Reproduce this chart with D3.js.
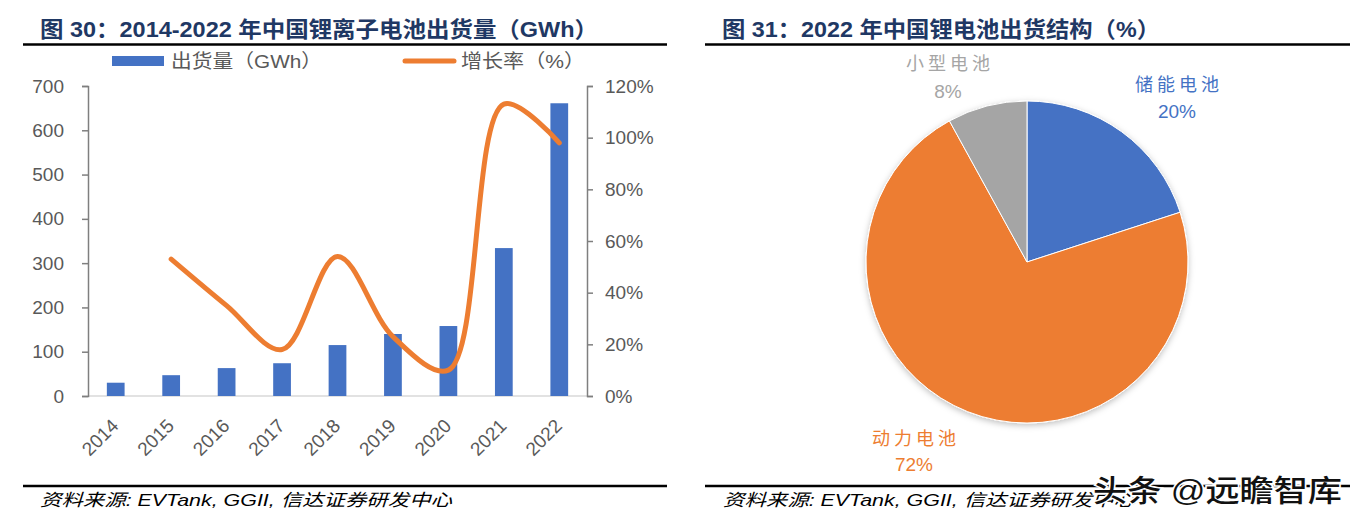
<!DOCTYPE html>
<html>
<head>
<meta charset="utf-8">
<script src="https://cdn.jsdelivr.net/npm/d3@7/dist/d3.min.js"></script>
<style>
  html, body { margin: 0; padding: 0; background: #fff; }
  svg { display: block; }
  text { font-family: "Liberation Sans", Arial, "Noto Sans CJK SC", sans-serif; }
</style>
</head>
<body>
<svg id="chart" width="1359" height="524"></svg>
<script>
// ---------- data ----------
const years = ["2014", "2015", "2016", "2017", "2018", "2019", "2020", "2021", "2022"];
const shipments = [30, 47, 63, 74, 115, 140, 158, 334, 661];            // GWh
const growth = [null, 0.53, 0.35, 0.18, 0.54, 0.23, 0.10, 1.13, 0.98]; // growth rate
const leftTicks = [0, 100, 200, 300, 400, 500, 600, 700];
const rightTicks = [0, 0.2, 0.4, 0.6, 0.8, 1.0, 1.2];

const pieLabels = ["储能电池", "动力电池", "小型电池"];
const pieValues = [20, 72, 8];
const pieColors = ["#4472C4", "#ED7D31", "#A5A5A5"];

const title1 = "图 30：2014-2022 年中国锂离子电池出货量（GWh）";
const title2 = "图 31：2022 年中国锂电池出货结构（%）";
const legendLabels = ["出货量（GWh）", "增长率（%）"];
const sourceText = "资料来源: EVTank, GGII, 信达证券研发中心";
const watermark = "头条 @远瞻智库";

// ---------- setup ----------
const svg = d3.select("#chart");
const navy = "#1F3864";
const grey = "#595959";
const blue = "#4472C4";
const orange = "#ED7D31";

const defs = svg.append("defs");
const f = defs.append("filter").attr("id", "shadow").attr("x", "-20%").attr("y", "-20%").attr("width", "140%").attr("height", "140%");
f.append("feDropShadow").attr("dx", 0).attr("dy", 2).attr("stdDeviation", 3).attr("flood-color", "#000").attr("flood-opacity", 0.25);

// ---------- titles & rules ----------
svg.append("text").attr("x", 40).attr("y", 37)
  .attr("font-size", 22).attr("font-weight", "bold").attr("fill", navy)
  .attr("textLength", 558).attr("lengthAdjust", "spacingAndGlyphs")
  .text(title1);
svg.append("text").attr("x", 722).attr("y", 37)
  .attr("font-size", 22).attr("font-weight", "bold").attr("fill", navy)
  .attr("textLength", 438).attr("lengthAdjust", "spacingAndGlyphs")
  .text(title2);

const rules = [[23, 667, 44.5], [705, 1350, 44.5], [23, 667, 486], [705, 1350, 486]];
svg.selectAll("line.rule").data(rules).join("line").attr("class", "rule")
  .attr("x1", d => d[0]).attr("x2", d => d[1]).attr("y1", d => d[2]).attr("y2", d => d[2])
  .attr("stroke", "#000").attr("stroke-width", 2.5);

// source texts
[40, 723].forEach(x => {
  svg.append("text").attr("x", x).attr("y", 506)
    .attr("font-size", 17).attr("font-style", "italic").attr("fill", "#000")
    .attr("textLength", 412).attr("lengthAdjust", "spacingAndGlyphs")
    .text(sourceText);
});

// ---------- left: combo chart ----------
const x = d3.scaleBand().domain(years).range([88, 587]).paddingInner(0.68).paddingOuter(0.34);
const yL = d3.scaleLinear().domain([0, 700]).range([396, 86]);
const yR = d3.scaleLinear().domain([0, 1.2]).range([396, 86]);

// baseline
svg.append("line").attr("x1", 88).attr("x2", 587).attr("y1", yL(0)).attr("y2", yL(0))
  .attr("stroke", "#D9D9D9").attr("stroke-width", 1.5);

// bars
svg.append("g").selectAll("rect").data(years).join("rect")
  .attr("x", (d) => x(d))
  .attr("width", x.bandwidth())
  .attr("y", (d, i) => yL(shipments[i]))
  .attr("height", (d, i) => yL(0) - yL(shipments[i]))
  .attr("fill", blue);

// growth line
const line = d3.line()
  .defined(d => d.v != null)
  .x(d => x(d.year) + x.bandwidth() / 2)
  .y(d => yR(d.v))
  .curve(d3.curveCatmullRom.alpha(0.5));
svg.append("path")
  .datum(years.map((y, i) => ({ year: y, v: growth[i] })).filter(d => d.v != null))
  .attr("d", line)
  .attr("fill", "none").attr("stroke", orange).attr("stroke-width", 5)
  .attr("stroke-linecap", "round").attr("stroke-linejoin", "round");

// left axis
const axL = svg.append("g").attr("transform", "translate(88,0)")
  .call(d3.axisLeft(yL).tickValues(leftTicks).tickSize(6).tickSizeOuter(6).tickPadding(18).tickFormat(d3.format("d")));
// right axis
const axR = svg.append("g").attr("transform", "translate(587,0)")
  .call(d3.axisRight(yR).tickValues(rightTicks).tickSize(6).tickSizeOuter(6).tickPadding(12).tickFormat(d3.format(".0%")));
[axL, axR].forEach(ax => {
  ax.selectAll("path.domain").attr("stroke", "#7F7F7F").attr("stroke-width", 1.5);
  ax.selectAll(".tick line").attr("stroke", "#7F7F7F").attr("stroke-width", 1.5);
  ax.selectAll(".tick text").attr("fill", grey).attr("font-size", 19)
    .attr("font-family", "'Liberation Sans', Arial, sans-serif");
});

// x labels (rotated)
svg.append("g").selectAll("text").data(years).join("text")
  .attr("transform", d => `translate(${x(d) + x.bandwidth() / 2 + 4},${427}) rotate(-45)`)
  .attr("text-anchor", "end")
  .attr("font-size", 19).attr("fill", grey)
  .text(d => d);

// legend
svg.append("rect").attr("x", 112).attr("y", 56).attr("width", 52).attr("height", 10).attr("fill", blue);
svg.append("text").attr("x", 171).attr("y", 68).attr("font-size", 19).attr("fill", grey)
  .attr("textLength", 151).attr("lengthAdjust", "spacingAndGlyphs")
  .attr("font-family", "'Noto Sans CJK SC', 'Liberation Sans', sans-serif")
  .text(legendLabels[0]);
svg.append("line").attr("x1", 405).attr("x2", 454).attr("y1", 61).attr("y2", 61)
  .attr("stroke", orange).attr("stroke-width", 5).attr("stroke-linecap", "round");
svg.append("text").attr("x", 461).attr("y", 68).attr("font-size", 19).attr("fill", grey)
  .attr("textLength", 124).attr("lengthAdjust", "spacingAndGlyphs")
  .attr("font-family", "'Noto Sans CJK SC', 'Liberation Sans', sans-serif")
  .text(legendLabels[1]);

// ---------- right: pie ----------
const cx = 1027, cy = 262, r = 161;
const pie = d3.pie().sort(null).value(d => d)(pieValues);
const arc = d3.arc().innerRadius(0).outerRadius(r);
const gp = svg.append("g").attr("transform", `translate(${cx},${cy})`).attr("filter", "url(#shadow)");
gp.selectAll("path").data(pie).join("path")
  .attr("d", arc)
  .attr("fill", (d, i) => pieColors[i])
  .attr("stroke", "#fff").attr("stroke-width", 1);

const labelPos = [[1177, 84, 111], [914, 438, 464], [948, 63, 91]];
pieLabels.forEach((lab, i) => {
  const [lx, ly1, ly2] = labelPos[i];
  svg.append("text").attr("x", lx).attr("y", ly1 + 7).attr("text-anchor", "middle")
    .attr("font-size", 18).attr("fill", pieColors[i])
    .attr("font-family", "'Noto Sans CJK SC', sans-serif")
    .attr("textLength", 84).attr("lengthAdjust", "spacing")
    .text(lab);
  svg.append("text").attr("x", lx).attr("y", ly2 + 7).attr("text-anchor", "middle")
    .attr("font-size", 19).attr("fill", pieColors[i])
    .text(pieValues[i] + "%");
});

// ---------- watermark ----------
svg.append("text").attr("x", 1093).attr("y", 501)
  .attr("font-size", 30).attr("font-weight", 500).attr("fill", "#111")
  .attr("stroke", "#fff").attr("stroke-width", 3).attr("paint-order", "stroke")
  .attr("font-family", "'Noto Sans CJK SC', sans-serif")
  .attr("textLength", 249).attr("lengthAdjust", "spacingAndGlyphs")
  .text(watermark);
</script>
</body>
</html>
